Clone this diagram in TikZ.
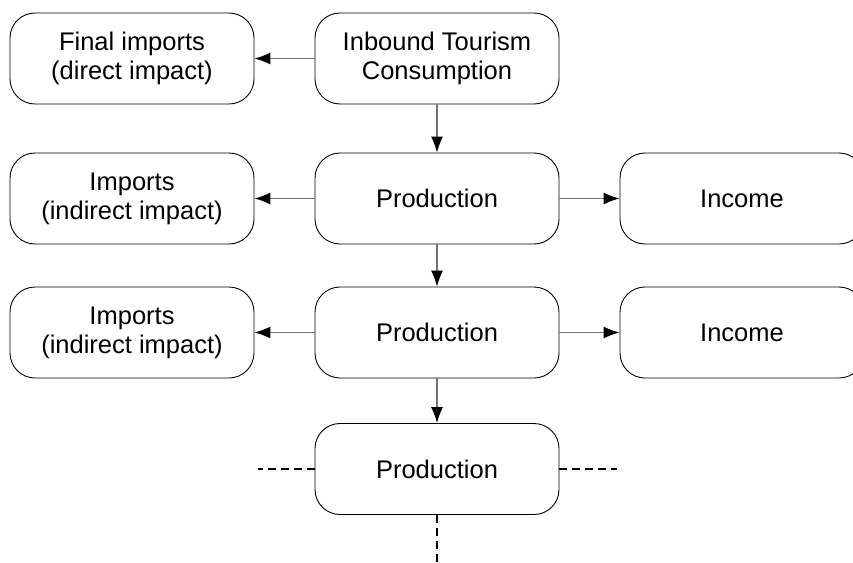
\documentclass[tikz,border=0pt]{standalone}
\usepackage{fontspec}
\setmainfont{Liberation Sans}
\usetikzlibrary{arrows.meta}
\begin{document}
\begin{tikzpicture}[x=1pt,y=-1pt,
  stage/.style={draw=black, line width=0.9pt, rounded corners=25pt,
    minimum width=244pt, minimum height=91pt, inner sep=0pt,
    align=center, font=\fontsize{25.5}{29}\selectfont},
  flow/.style={draw=black!55, line width=1.2pt,
    -{Latex[length=16pt,width=12pt,color=black]}},
  cont/.style={draw=black, line width=1.8pt, dash pattern=on 8pt off 5pt}]
\useasboundingbox (0,0) rectangle (853,562);
\clip (0,0) rectangle (853,562);
% top row
\node[stage] (fin) at (132,58.5) {Final imports\\(direct impact)};
\node[stage] (itc) at (437,58.5) {Inbound Tourism\\Consumption};
% first production round
\node[stage] (imp1) at (132,198.5) {Imports\\(indirect impact)};
\node[stage] (pro1) at (437,198.5) {Production};
\node[stage] (inc1) at (742,198.5) {Income};
% second production round
\node[stage] (imp2) at (132,332.5) {Imports\\(indirect impact)};
\node[stage] (pro2) at (437,332.5) {Production};
\node[stage] (inc2) at (742,332.5) {Income};
% further rounds
\node[stage] (pro3) at (437,469) {Production};
\coordinate (contL) at (258,469);
\coordinate (contR) at (617,469);
\coordinate (contD) at (437,562);
% connectors
\draw[flow] (itc) -- (fin);
\draw[flow] (itc) -- (pro1);
\draw[flow] (pro1) -- (imp1);
\draw[flow] (pro1) -- (inc1);
\draw[flow] (pro1) -- (pro2);
\draw[flow] (pro2) -- (imp2);
\draw[flow] (pro2) -- (inc2);
\draw[flow] (pro2) -- (pro3);
\draw[cont] (pro3.west) -- (contL);
\draw[cont] (pro3.east) -- (contR);
\draw[cont] (pro3.south) -- (contD);
\end{tikzpicture}
\end{document}
